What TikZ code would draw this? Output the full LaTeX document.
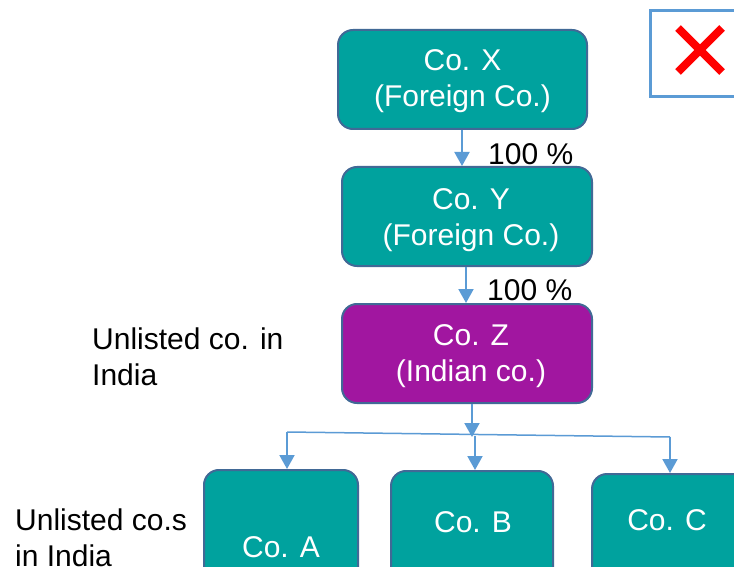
\documentclass[tikz,border=0pt]{standalone}
\usepackage{fontspec}
\setmainfont{Liberation Sans}
\usetikzlibrary{arrows.meta}
\definecolor{teal1}{RGB}{0,162,158}
\definecolor{purp1}{RGB}{161,22,160}
\definecolor{edge1}{RGB}{65,105,150}
\definecolor{arr1}{RGB}{91,155,213}
\begin{document}
\begin{tikzpicture}[x=1pt,y=-1pt,
  font=\fontsize{30}{36}\selectfont,
  cobox/.style={draw=edge1,line width=2pt,rounded corners=15pt,fill=teal1,text=white,align=center,inner sep=0pt},
  zbox/.style={cobox,fill=purp1},
  conn/.style={draw=arr1,line width=2pt,-{Triangle[width=15pt,length=14pt]}},
  plain/.style={draw=arr1,line width=1.5pt},
  lbl/.style={anchor=west,align=left,inner sep=0pt,text=black},
  wtxt/.style={text=white,inner sep=0pt,align=center}]
\clip (0,0) rectangle (734,567);
\fill[white] (0,0) rectangle (734,567);
% mark box
\node[draw=arr1,line width=3pt,minimum width=110pt,minimum height=86pt,inner sep=0pt,anchor=north west] (mark) at (649,9) {};
\draw[red,line width=8pt] (678,28) -- (722,72) (722,28) -- (678,72);
% main boxes
\node[cobox,minimum width=249pt,minimum height=99pt] (X) at (462.5,79.5) {};
\node[cobox,minimum width=250pt,minimum height=99pt] (Y) at (467,216.5) {};
\node[zbox,minimum width=250pt,minimum height=99pt] (Z) at (467,353.5) {};
\node[wtxt] (Xt) at (462.5,81) {Co. X\\(Foreign Co.)};
\node[wtxt] (Yt) at (471,220) {Co. Y\\(Foreign Co.)};
\node[wtxt] (Zt) at (471,356) {Co. Z\\(Indian co.)};
\node[cobox,minimum width=154pt,minimum height=150pt,anchor=north] (A) at (281,469) {};
\node[cobox,minimum width=162pt,minimum height=150pt,anchor=north] (B) at (472,470) {};
\node[cobox,minimum width=160pt,minimum height=150pt,anchor=north west] (C) at (591,473) {};
\node[wtxt] (At) at (281,547) {Co. A};
\node[wtxt] (Bt) at (473,522) {Co. B};
\node[wtxt] (Ct) at (667,520) {Co. C};
% arrows
\draw[conn] (X.south -| 462,0) -- (Y.north -| 462,0);
\draw[conn] (Y.south -| 466,0) -- (Z.north -| 466,0);
\node[lbl] (p1) at (488,154) {100 \%};
\node[lbl] (p2) at (487,290) {100 \%};
\coordinate (hl) at (287,432);
\coordinate (hm) at (472,437);
\coordinate (hr) at (670,437);
\draw[plain] (hl) -- (hr);
\draw[conn] (Z.south -| hm) -- (hm);
\draw[conn] (hl) -- (A.north -| hl);
\draw[conn] (475,436) -- (B.north -| 475,0);
\draw[conn] (hr) -- (C.north -| hr);
% side labels
\node[lbl] (u1) at (92,357) {Unlisted co. in\\India};
\node[lbl] (u2) at (15,538) {Unlisted co.s\\in India};
\end{tikzpicture}
\end{document}
